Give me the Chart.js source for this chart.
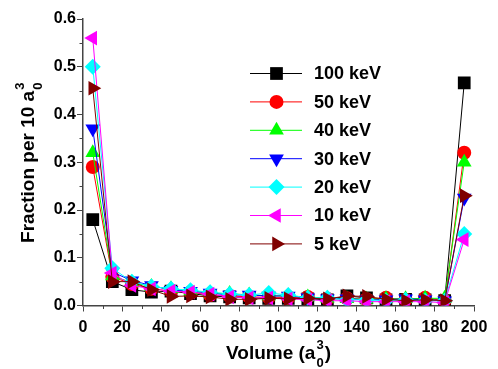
<!DOCTYPE html>
<html>
<head>
<meta charset="utf-8">
<script src="https://cdn.jsdelivr.net/npm/chart.js@4"></script>
<style>
  html, body { margin: 0; padding: 0; background: #fff; }
  #wrap { width: 498px; height: 369px; }
</style>
</head>
<body>
<div id="wrap"><canvas id="chart-fraction" width="498" height="369"></canvas></div>
<script>
// volume bins (a0^3)
var volumes = [5, 15, 25, 35, 45, 55, 65, 75, 85, 95, 105, 115, 125, 135, 145, 155, 165, 175, 185, 195];

var kev100 = [0.180, 0.050, 0.033, 0.028, 0.030, 0.025, 0.020, 0.018, 0.016, 0.015, 0.015, 0.014, 0.012, 0.020, 0.016, 0.012, 0.013, 0.012, 0.010, 0.466];
var kev50  = [0.290, 0.060, 0.045, 0.035, 0.030, 0.028, 0.022, 0.020, 0.018, 0.017, 0.016, 0.018, 0.014, 0.015, 0.013, 0.016, 0.012, 0.016, 0.010, 0.320];
var kev40  = [0.320, 0.062, 0.048, 0.040, 0.035, 0.030, 0.026, 0.025, 0.022, 0.020, 0.020, 0.018, 0.015, 0.014, 0.013, 0.014, 0.014, 0.015, 0.015, 0.300];
var kev30  = [0.370, 0.070, 0.052, 0.042, 0.032, 0.030, 0.026, 0.022, 0.022, 0.020, 0.020, 0.016, 0.014, 0.014, 0.012, 0.012, 0.014, 0.012, 0.010, 0.225];
var kev20  = [0.500, 0.078, 0.050, 0.040, 0.035, 0.032, 0.028, 0.024, 0.022, 0.026, 0.022, 0.016, 0.016, 0.012, 0.012, 0.010, 0.012, 0.010, 0.010, 0.150];
var kev10  = [0.560, 0.068, 0.042, 0.035, 0.030, 0.028, 0.024, 0.018, 0.016, 0.016, 0.014, 0.012, 0.010, 0.010, 0.008, 0.008, 0.008, 0.008, 0.006, 0.138];
var kev5   = [0.455, 0.050, 0.050, 0.033, 0.019, 0.020, 0.018, 0.013, 0.013, 0.015, 0.014, 0.015, 0.014, 0.020, 0.019, 0.013, 0.010, 0.012, 0.010, 0.230];

var labels = ["100 keV", "50 keV", "40 keV", "30 keV", "20 keV", "10 keV", "5 keV"];
var xTicks = [0, 20, 40, 60, 80, 100, 120, 140, 160, 180, 200];
var yTicks = [0.0, 0.1, 0.2, 0.3, 0.4, 0.5, 0.6];

var FONT = "'Liberation Sans', Arial, sans-serif";
var AXIS = "#444";

function pts(values) {
    return values.map(function (v, i) { return { x: volumes[i], y: v }; });
}

function series(label, values, color, style, rotation, radius, order) {
    return {
        label: label,
        data: pts(values),
        showLine: true,
        borderColor: color,
        backgroundColor: color,
        borderWidth: 1,
        pointStyle: style,
        pointRotation: rotation,
        pointRadius: radius,
        pointBorderWidth: 0,
        pointBackgroundColor: color,
        order: order
    };
}

// legend drawn inside the plot like the original
var insideLegend = {
    id: "insideLegend",
    afterDraw: function (chart) {
        var ctx = chart.ctx;
        ctx.save();
        chart.data.datasets.forEach(function (ds, i) {
            var y = 73.5 + i * 28.4;
            ctx.strokeStyle = ds.borderColor;
            ctx.lineWidth = 1;
            ctx.beginPath();
            ctx.moveTo(250, y);
            ctx.lineTo(302, y);
            ctx.stroke();
            ctx.fillStyle = ds.backgroundColor;
            Chart.helpers.drawPoint(ctx, {
                pointStyle: ds.pointStyle,
                rotation: ds.pointRotation,
                radius: ds.pointRadius,
                borderWidth: 0
            }, 276.5, y);
            ctx.fillStyle = "#000";
            ctx.font = "bold 18px " + FONT;
            ctx.textBaseline = "middle";
            ctx.textAlign = "left";
            ctx.fillText(ds.label, 314, y + 1);
        });
        ctx.restore();
    }
};

// short minor ticks between the labelled ones
var minorTicks = {
    id: "minorTicks",
    afterDraw: function (chart) {
        var ctx = chart.ctx, xs = chart.scales.x, ys = chart.scales.y;
        ctx.save();
        ctx.strokeStyle = AXIS;
        ctx.lineWidth = 1;
        ctx.beginPath();
        for (var v = 10; v < 200; v += 20) {
            var px = Math.round(xs.getPixelForValue(v)) + 0.5;
            ctx.moveTo(px, xs.top);
            ctx.lineTo(px, xs.top + 3.5);
        }
        for (var w = 0.05; w < 0.6; w += 0.1) {
            var py = Math.round(ys.getPixelForValue(w)) + 0.5;
            ctx.moveTo(ys.right, py);
            ctx.lineTo(ys.right - 3.5, py);
        }
        ctx.stroke();
        ctx.restore();
    }
};

// axis titles with a0 subscript and 3 superscript stacked
function drawUnitTitle(ctx, base, tail, cx, baseline) {
    var big = "bold 19px " + FONT, small = "bold 13px " + FONT;
    ctx.font = big;
    var wBase = ctx.measureText(base).width;
    var wTail = ctx.measureText(tail).width;
    ctx.font = small;
    var wStack = Math.max(ctx.measureText("0").width, ctx.measureText("3").width) + 2;
    var x = cx - (wBase + wStack + wTail) / 2;
    ctx.textAlign = "left";
    ctx.textBaseline = "alphabetic";
    ctx.font = big;
    ctx.fillText(base, x, baseline);
    ctx.font = small;
    ctx.fillText("0", x + wBase + 1, baseline + 8);
    ctx.fillText("3", x + wBase + 1, baseline - 10);
    if (tail) {
        ctx.font = big;
        ctx.fillText(tail, x + wBase + wStack, baseline);
    }
}

var axisTitles = {
    id: "axisTitles",
    afterDraw: function (chart) {
        var ctx = chart.ctx, area = chart.chartArea;
        ctx.save();
        ctx.fillStyle = "#000";
        drawUnitTitle(ctx, "Volume (a", ")", (area.left + area.right) / 2, 358.5);
        ctx.translate(33.5, (area.top + area.bottom) / 2);
        ctx.rotate(-Math.PI / 2);
        drawUnitTitle(ctx, "Fraction per 10 a", "", 0, 0);
        ctx.restore();
    }
};

new Chart(document.getElementById("chart-fraction"), {
    type: "scatter",
    data: {
        datasets: [
            series(labels[0], kev100, "#000000", "rect", 0, 9, 6),
            series(labels[1], kev50, "#ff0000", "circle", 0, 7, 5),
            series(labels[2], kev40, "#00ff00", "triangle", 0, 8.5, 4),
            series(labels[3], kev30, "#0000ff", "triangle", 180, 8.5, 3),
            series(labels[4], kev20, "#00ffff", "rectRot", 0, 8, 2),
            series(labels[5], kev10, "#ff00ff", "triangle", 270, 8.5, 1),
            series(labels[6], kev5, "#800000", "triangle", 90, 8.5, 0)
        ]
    },
    options: {
        responsive: false,
        animation: false,
        layout: { padding: { top: 19, right: 24, left: 0, bottom: 0 } },
        plugins: {
            legend: { display: false },
            tooltip: { enabled: false }
        },
        scales: {
            x: {
                type: "linear",
                min: 0,
                max: 200,
                afterBuildTicks: function (scale) {
                    scale.ticks = xTicks.map(function (v) { return { value: v }; });
                },
                afterFit: function (scale) { scale.height = 63.5; },
                grid: { drawOnChartArea: false, drawTicks: true, tickLength: 6, tickColor: AXIS },
                border: { display: true, color: AXIS, width: 1.5 },
                ticks: {
                    color: "#000",
                    padding: 6,
                    maxRotation: 0,
                    autoSkip: false,
                    font: { family: FONT, size: 16, weight: "bold" },
                    callback: function (v) { return String(v); }
                }
            },
            y: {
                type: "linear",
                min: 0,
                max: 0.6,
                afterBuildTicks: function (scale) {
                    scale.ticks = yTicks.map(function (v) { return { value: v }; });
                },
                afterFit: function (scale) { scale.width = 83; },
                grid: { drawOnChartArea: false, drawTicks: true, tickLength: 6, tickColor: AXIS },
                border: { display: true, color: AXIS, width: 1.5 },
                ticks: {
                    color: "#000",
                    padding: 1,
                    autoSkip: false,
                    font: { family: FONT, size: 16, weight: "bold" },
                    callback: function (v) { return v.toFixed(1); }
                }
            }
        }
    },
    plugins: [insideLegend, minorTicks, axisTitles]
});
</script>
</body>
</html>
